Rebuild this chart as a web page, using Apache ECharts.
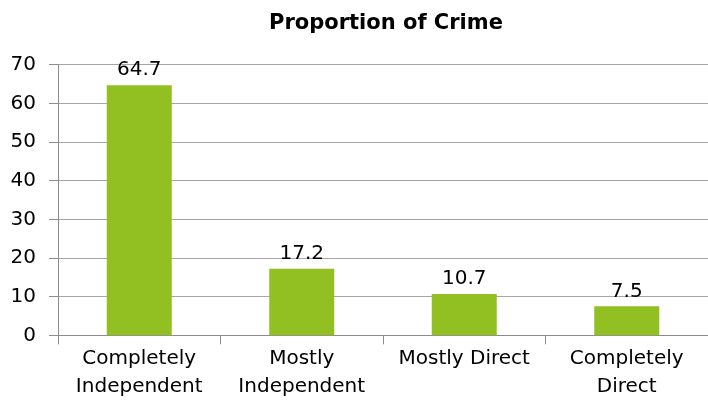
<!DOCTYPE html>
<html>
<head>
<meta charset="utf-8">
<script src="https://cdn.jsdelivr.net/npm/echarts@6/dist/echarts.min.js"></script>
<style>
  html, body { margin: 0; padding: 0; background: #ffffff; }
  #chart { width: 708px; height: 408px; }
</style>
</head>
<body>
<div id="chart"></div>
<script>
// Crime proportion by category
const categories = ['Completely\nIndependent', 'Mostly\nIndependent', 'Mostly Direct', 'Completely\nDirect'];
const values = [64.7, 17.2, 10.7, 7.5];
const yTicks = { min: 0, max: 70, interval: 10 };

const FONT = '"DejaVu Sans", sans-serif';

const chart = echarts.init(document.getElementById('chart'), null, { renderer: 'canvas' });
chart.setOption({
  animation: false,
  backgroundColor: '#ffffff',
  title: {
    text: 'Proportion of Crime',
    left: 381,
    textAlign: 'center',
    top: 8,
    textStyle: { fontFamily: FONT, fontSize: 21, fontWeight: 'bold', color: '#000000' }
  },
  grid: { left: 58, top: 64.7, width: 656, height: 270.6, containLabel: false },
  xAxis: {
    type: 'category',
    data: categories,
    boundaryGap: true,
    axisLine: { lineStyle: { color: '#8c8c8c', width: 1 } },
    axisTick: { show: true, length: 9, alignWithLabel: false, lineStyle: { color: '#8c8c8c' } },
    axisLabel: {
      fontFamily: FONT, fontSize: 20, color: '#000000', margin: 9,
      lineHeight: 28, interval: 0
    },
    splitLine: { show: false }
  },
  yAxis: {
    type: 'value',
    min: yTicks.min,
    max: yTicks.max,
    interval: yTicks.interval,
    axisLine: { show: true, lineStyle: { color: '#8c8c8c', width: 1 } },
    axisTick: { show: true, length: 9, lineStyle: { color: '#8c8c8c' } },
    axisLabel: { fontFamily: FONT, fontSize: 20, color: '#000000', margin: 22 },
    splitLine: { show: true, lineStyle: { color: '#a6a6a6', width: 1 } }
  },
  series: [{
    type: 'bar',
    data: values,
    barWidth: '40%',
    itemStyle: { color: '#92C022' },
    label: {
      show: true,
      position: 'top',
      distance: 5,
      fontFamily: FONT, fontSize: 20, color: '#000000'
    }
  }]
});
</script>
</body>
</html>
